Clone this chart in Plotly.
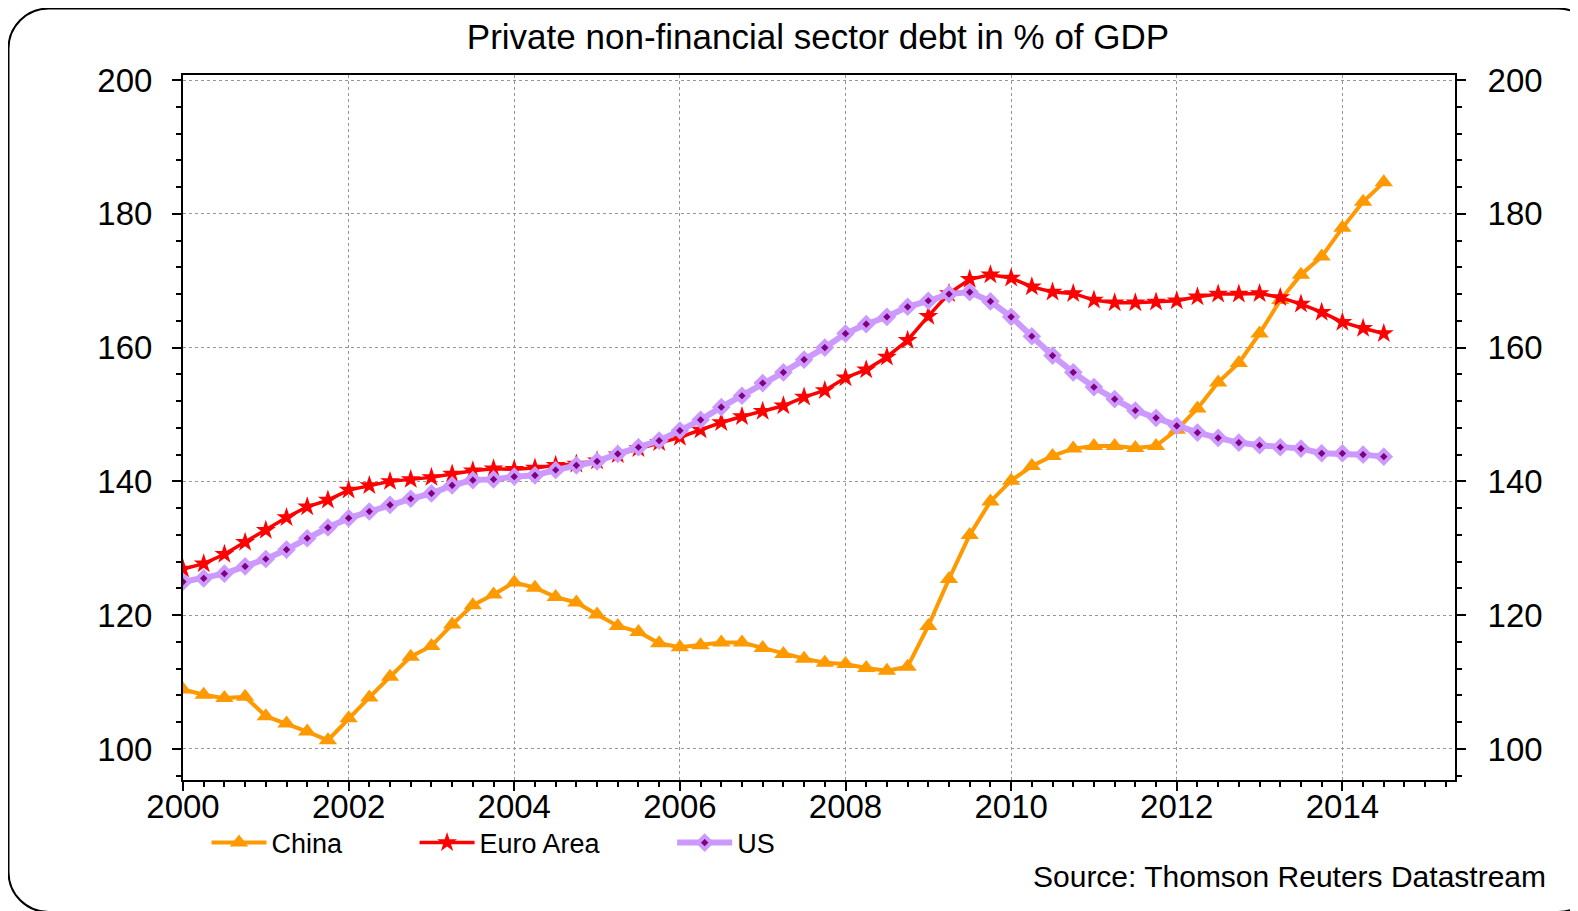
import plotly.graph_objects as go

# quarterly observations, 2000Q1 .. 2014Q3
quarters = [2000 + 0.25 * i for i in range(59)]

china = [108.9, 108.1, 107.6, 107.8, 104.9, 103.8, 102.6, 101.3,
         104.6, 107.7, 110.8, 113.8, 115.4, 118.6, 121.5, 123.1,
         124.9, 124.1, 122.7, 121.9, 120.1, 118.4, 117.5, 115.8,
         115.2, 115.5, 115.9, 115.9, 115.1, 114.2, 113.5, 112.9,
         112.7, 112.1, 111.7, 112.3, 118.4, 125.4, 132.0, 137.0,
         140.1, 142.3, 143.8, 144.9, 145.3, 145.3, 145.0, 145.3,
         147.7, 150.9, 154.8, 157.7, 162.1, 167.1, 170.9, 173.6,
         177.9, 181.8, 184.7]

euro_area = [126.9, 127.7, 129.1, 130.9, 132.7, 134.6, 136.2, 137.2,
             138.7, 139.4, 140.0, 140.3, 140.6, 141.1, 141.6, 141.9,
             141.8, 142.0, 142.4, 142.6, 143.1, 144.0, 144.9, 145.8,
             146.6, 147.7, 148.8, 149.7, 150.5, 151.3, 152.6, 153.6,
             155.5, 156.7, 158.6, 161.1, 164.7, 168.1, 170.2, 170.9,
             170.4, 169.1, 168.3, 168.1, 167.1, 166.7, 166.7, 166.8,
             167.0, 167.6, 168.0, 168.0, 168.1, 167.5, 166.5, 165.3,
             163.8, 162.9, 162.1]

us = [125.0, 125.5, 126.2, 127.3, 128.4, 129.8, 131.5, 133.1,
      134.5, 135.5, 136.5, 137.4, 138.2, 139.4, 140.2, 140.3,
      140.7, 140.9, 141.7, 142.4, 143.0, 144.1, 145.1, 146.1,
      147.6, 149.2, 151.1, 152.8, 154.7, 156.3, 158.2, 160.0,
      162.1, 163.5, 164.6, 166.1, 167.0, 168.0, 168.3, 166.9,
      164.6, 161.7, 158.8, 156.3, 154.1, 152.3, 150.6, 149.5,
      148.3, 147.3, 146.5, 145.8, 145.4, 145.1, 144.9, 144.2,
      144.2, 144.0, 143.7]

series_names = ["China", "Euro Area", "US"]
year_ticks = list(range(2000, 2015, 2))
value_ticks = [100, 120, 140, 160, 180, 200]

# the page body adds an 8px margin, so the figure is 8px smaller
W, H = 1570, 903
L, R, T, B = 175, 123, 67, 131
FONT = "Liberation Sans, Arial, sans-serif"

ORANGE = "rgb(255,153,0)"
RED = "rgb(255,0,0)"
LAVENDER = "rgb(204,153,255)"
PURPLE = "rgb(128,0,128)"
GRID = "rgb(150,150,150)"

PAD = "\u00a0" * 9  # widens legend entries to the reference spacing


def px2paper(x, y):
    return (x - L) / (W - L - R), (H - B - y) / (H - T - B)


def rounded_frame(x0, y0, x1, y1, r):
    k = 0.5523 * r
    pts = [
        ("M", [(x0, y0 + r)]),
        ("C", [(x0, y0 + r - k), (x0 + r - k, y0), (x0 + r, y0)]),
        ("L", [(x1 - r, y0)]),
        ("C", [(x1 - r + k, y0), (x1, y0 + r - k), (x1, y0 + r)]),
        ("L", [(x1, y1 - r)]),
        ("C", [(x1, y1 - r + k), (x1 - r + k, y1), (x1 - r, y1)]),
        ("L", [(x0 + r, y1)]),
        ("C", [(x0 + r - k, y1), (x0, y1 - r + k), (x0, y1 - r)]),
    ]
    out = []
    for cmd, coords in pts:
        s = " ".join("%.5f,%.5f" % px2paper(cx, cy) for cx, cy in coords)
        out.append(cmd + s)
    return " ".join(out) + " Z"


fig = go.Figure()

fig.add_trace(go.Scatter(
    x=quarters, y=china, name=series_names[0] + PAD, mode="lines+markers",
    line=dict(color=ORANGE, width=4),
    marker=dict(symbol="triangle-up", size=16, color=ORANGE)))

fig.add_trace(go.Scatter(
    x=quarters, y=euro_area, name=series_names[1] + PAD, mode="lines+markers",
    line=dict(color=RED, width=3.5),
    marker=dict(symbol="star", size=15, color=RED)))

fig.add_trace(go.Scatter(
    x=quarters, y=us, name=series_names[2], mode="lines+markers",
    line=dict(color=LAVENDER, width=6),
    marker=dict(symbol="diamond", size=10, color=PURPLE,
                line=dict(color=LAVENDER, width=4))))

# invisible copy on the right-hand axis so that it gets drawn
fig.add_trace(go.Scatter(
    x=quarters, y=china, yaxis="y2", mode="lines", opacity=0,
    line=dict(width=0), showlegend=False, hoverinfo="skip"))

yrange = [95.36, 200.75]
ytick_common = dict(
    range=yrange, tickvals=value_ticks,
    ticks="outside", ticklen=9, tickwidth=2, tickcolor="black",
    minor=dict(dtick=4, tick0=100, ticks="outside", ticklen=5,
               tickwidth=2, tickcolor="black", showgrid=False),
    showline=True, linecolor="black", linewidth=2,
    zeroline=False, tickfont=dict(family=FONT, size=33, color="black"),
)

fig.update_layout(
    width=W, height=H,
    margin=dict(l=L, r=R, t=T, b=B),
    paper_bgcolor="white", plot_bgcolor="white",
    title=dict(text="Private non-financial sector debt in % of GDP",
               x=810 / W, y=1 - 29 / H, xanchor="center", yanchor="middle",
               font=dict(family=FONT, size=35, color="black")),
    xaxis=dict(
        range=[2000, 2015.36], tickvals=year_ticks,
        ticks="outside", ticklen=9, tickwidth=2, tickcolor="black",
        minor=dict(dtick=0.25, tick0=2000, ticks="outside", ticklen=5,
                   tickwidth=2, tickcolor="black", showgrid=False),
        showline=True, linecolor="black", linewidth=2, mirror=True,
        showgrid=True, gridcolor=GRID, griddash="dot", gridwidth=1,
        zeroline=False, ticklabelstandoff=-13,
        tickfont=dict(family=FONT, size=33, color="black"),
    ),
    yaxis=dict(showgrid=True, gridcolor=GRID, griddash="dot",
               gridwidth=1, ticklabelstandoff=13, **ytick_common),
    yaxis2=dict(overlaying="y", side="right", anchor="x", showgrid=False,
                ticklabelstandoff=15, **ytick_common),
    legend=dict(orientation="h", x=px2paper(198.5, 0)[0], xanchor="left",
                y=px2paper(0, 835)[1], yanchor="middle", itemwidth=55,
                font=dict(family=FONT, size=27, color="black"),
                bgcolor="rgba(0,0,0,0)"),
    showlegend=True,
    annotations=[dict(
        text="Source: Thomson Reuters Datastream",
        xref="paper", yref="paper",
        x=px2paper(1540, 0)[0], y=px2paper(0, 868)[1],
        xanchor="right", yanchor="middle", showarrow=False,
        font=dict(family=FONT, size=30, color="black"))],
    shapes=[dict(type="path", xref="paper", yref="paper",
                 path=rounded_frame(0.5, 0.5, 1590, 904, 40),
                 line=dict(color="black", width=2), layer="above")],
)

fig.write_html("out.html")
